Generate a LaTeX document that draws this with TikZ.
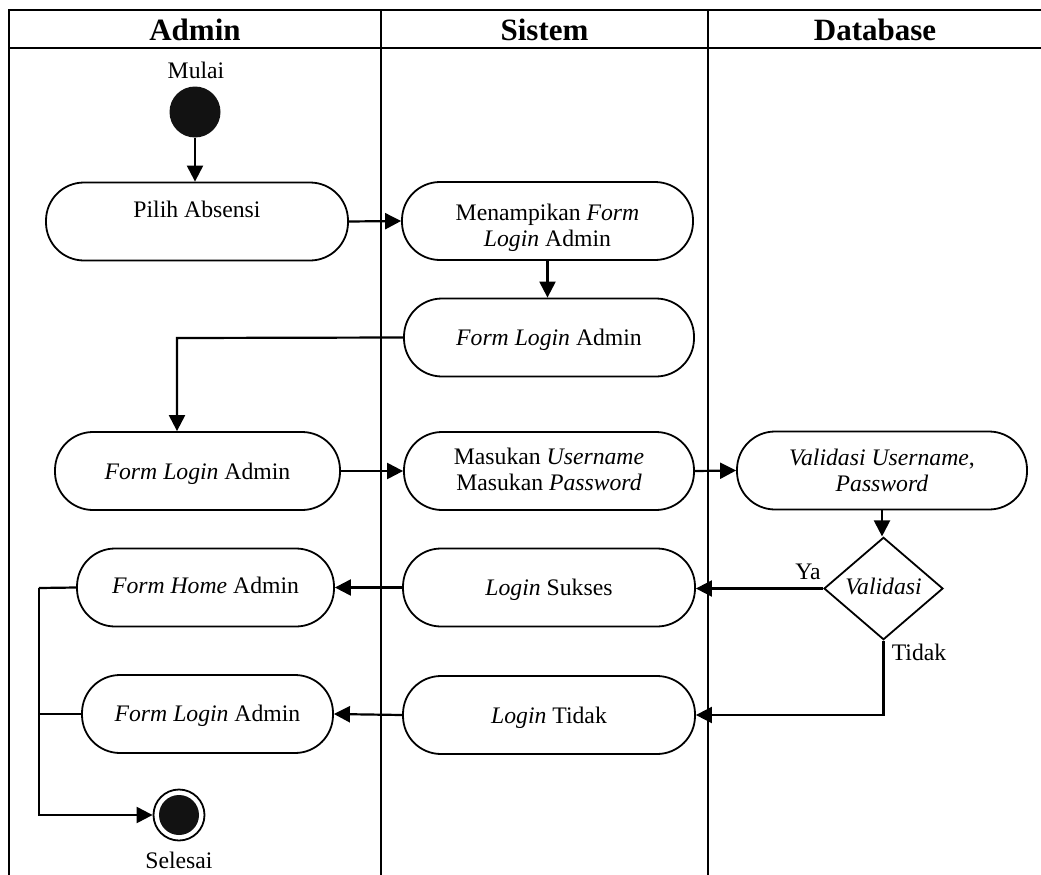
\documentclass[tikz,border=0pt]{standalone}
\usepackage{fontspec}
\setmainfont{Liberation Serif}
\usetikzlibrary{arrows.meta,shapes.geometric}
\newcommand\mybody{\fontsize{23.7pt}{26pt}\selectfont}
\newcommand\myhead{\fontsize{31pt}{34pt}\selectfont\bfseries}
\newcommand\shiftt[2]{\raisebox{#1}[\height][\depth]{\begin{tabular}{@{}c@{}}#2\end{tabular}}}
\begin{document}
\begin{tikzpicture}[x=1pt,y=-1pt,
  act/.style={draw,line width=1.8pt,rectangle,rounded corners=38pt,minimum height=78pt,inner sep=0pt,align=center,font=\mybody},
  dec/.style={draw,line width=1.8pt,diamond,minimum width=119pt,minimum height=99pt,inner sep=0pt,font=\mybody},
  lbl/.style={font=\mybody,inner sep=0pt},
  hdr/.style={font=\myhead,inner sep=0pt},
  frame/.style={line width=2.3pt},
  flow/.style={line width=2.2pt,-{Triangle[length=16pt,width=16pt]}},
  plain/.style={line width=2.2pt}]
\useasboundingbox (0,0) rectangle (1041,875);
% swimlane frame
\draw[frame] (9,880) -- (9,10) -- (1046,10);
\draw[frame] (9,48) -- (1046,48);
\draw[frame] (381,10) -- (381,880);
\draw[frame] (708,10) -- (708,880);
\node[hdr] (hA) at (195,30) {Admin};
\node[hdr] (hS) at (544.5,30) {Sistem};
\node[hdr] (hD) at (875,30) {Database};
% start
\node[lbl] (mulai) at (196,70) {Mulai};
\node[circle,fill=black!93,minimum size=51pt,inner sep=0pt] (start) at (195,112) {};
% activities
\node[act,minimum width=302pt] (pilih) at (197,221.5) {\shiftt{9pt}{Pilih Absensi}};
\node[act,minimum width=291pt] (tampil) at (547.5,221) {\shiftt{-7pt}{Menampikan \textit{Form}\\\textit{Login} Admin}};
\node[act,minimum width=290pt] (fl1) at (549,337.5) {\shiftt{-3pt}{\textit{Form Login} Admin}};
\node[act,minimum width=285pt] (fl2) at (197.5,471) {\shiftt{-3pt}{\textit{Form Login} Admin}};
\node[act,minimum width=290pt] (masuk) at (549,471) {\shiftt{-1pt}{Masukan \textit{Username}\\Masukan \textit{Password}}};
\node[act,minimum width=290pt] (valid) at (882,470.5) {\shiftt{-3pt}{\textit{Validasi Username},\\\textit{Password}}};
\node[dec] (dv) at (883.5,588.5) {\shiftt{-1pt}{\textit{Validasi}}};
\node[act,minimum width=292pt] (sukses) at (549,587.5) {\shiftt{-3pt}{\textit{Login} Sukses}};
\node[act,minimum width=292pt] (tidak) at (549,715) {\shiftt{-3pt}{\textit{Login} Tidak}};
\node[act,minimum width=257pt] (home) at (205.5,587.5) {\shiftt{-1pt}{\textit{Form Home} Admin}};
\node[act,minimum width=251pt] (fl3) at (207.5,714) {\shiftt{-2pt}{\textit{Form Login} Admin}};
% end
\node[circle,draw,line width=1.8pt,fill=white,minimum size=51pt,inner sep=0pt] (end) at (179,815) {};
\fill[black!93] (end.center) circle (20pt);
\node[lbl] (selesai) at (179,860) {Selesai};
% labels
\node[lbl] (ya) at (808,572) {Ya};
\node[lbl] (td) at (919,652) {Tidak};
% connectors
\coordinate (b1) at (177,338);
\coordinate (b2) at (883.5,715);
\coordinate (b3) at (39,588);
\coordinate (b4) at (39,714);
\coordinate (b5) at (39,815);
\draw[flow] (start) -- (start |- pilih.north);
\draw[flow] (pilih.east) -- (tampil.west);
\draw[flow] (tampil.south) -- (tampil.south |- fl1.north);
\draw[flow] (fl1.west) -- (b1) -- (b1 |- fl2.north);
\draw[flow] (fl2.east) -- (masuk.west);
\draw[flow] (masuk.east) -- (valid.west);
\draw[flow] (valid.south) -- (valid.south |- dv.north);
\draw[flow] (dv.west) -- (sukses.east |- dv.west);
\draw[flow] (dv.south) -- (b2) -- (tidak.east);
\draw[flow] (sukses.west) -- (home.east);
\draw[flow] (tidak.west) -- (fl3.east);
\draw[plain] (home.west) -- (b3);
\draw[plain] (fl3.west) -- (b4);
\draw[flow] (b3) -- (b5) -- (end.west);
\end{tikzpicture}
\end{document}
